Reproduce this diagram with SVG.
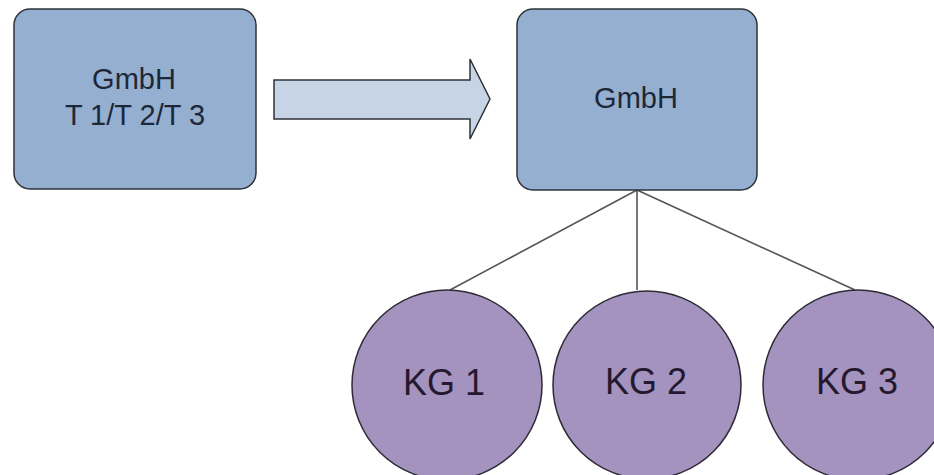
<svg xmlns="http://www.w3.org/2000/svg" width="934" height="475" viewBox="0 0 934 475">
<style>
.box{fill:#95afd1;stroke:#2e3238;stroke-width:1.5}
.circ{fill:#a493bf;stroke:#2e2a36;stroke-width:1.5}
.conn{stroke:#555;stroke-width:1.6;fill:none}
.t{font-family:"Liberation Sans",Arial,sans-serif;text-anchor:middle}
.tb{fill:#1c2838;font-size:29px}
.tk{fill:#24192e;font-size:36px}
</style>
<rect width="934" height="475" fill="#ffffff"/>
<g id="arrow">
<polygon points="274,80 470,80 470,59 490,99 470,139 470,119 274,119" fill="#c6d4e5" stroke="#2e3238" stroke-width="1.5"/>
</g>
<g id="connectors">
<line class="conn" x1="637" y1="190" x2="450" y2="290"/>
<line class="conn" x1="637" y1="190" x2="637" y2="290"/>
<line class="conn" x1="637" y1="190" x2="855" y2="290"/>
</g>
<g id="node-left">
<rect class="box" x="14" y="9" width="242" height="180" rx="16"/>
<text class="t tb" x="134" y="89">GmbH</text>
<text class="t tb" x="135" y="125">T 1/T 2/T 3</text>
</g>
<g id="node-right">
<rect class="box" x="517" y="9" width="240" height="181" rx="16"/>
<text class="t tb" x="636" y="108">GmbH</text>
</g>
<g id="kg1">
<circle class="circ" cx="447" cy="385" r="95"/>
<text class="t tk" x="444" y="395">KG 1</text>
</g>
<g id="kg2">
<circle class="circ" cx="647" cy="385" r="94"/>
<text class="t tk" x="646" y="394">KG 2</text>
</g>
<g id="kg3">
<circle class="circ" cx="858" cy="385" r="95"/>
<text class="t tk" x="857" y="394">KG 3</text>
</g>
</svg>
